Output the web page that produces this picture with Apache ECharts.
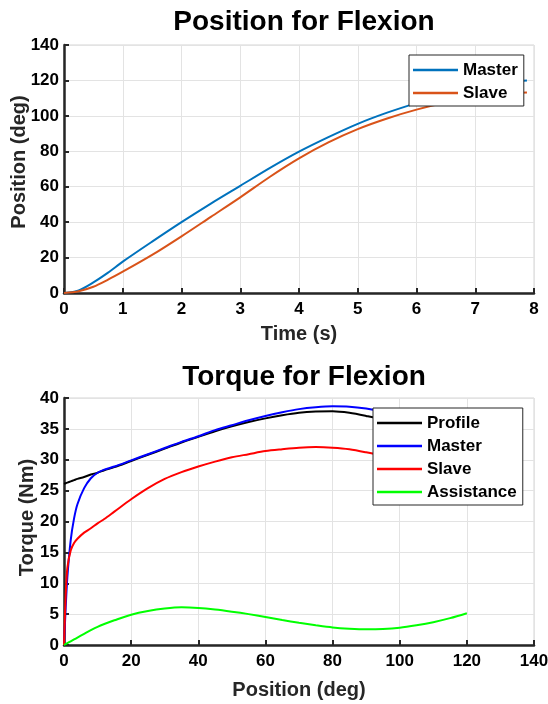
<!DOCTYPE html>
<html>
<head>
<meta charset="utf-8">
<script src="https://cdn.jsdelivr.net/npm/echarts@6/dist/echarts.min.js"></script>
<style>
html, body { margin: 0; padding: 0; background: #fff; }
#chart { width: 548px; height: 704px; }
</style>
</head>
<body>
<div id="chart"></div>
<script>
// position vs time
const timeS = [0, 0.25, 0.5, 0.75, 1, 1.5, 2, 2.5, 3, 3.5, 4, 4.5, 5, 5.5, 6, 6.5, 7, 7.5, 7.88]
const masterPos = [0, 1.5, 6, 11.5, 17.7, 29, 40, 50.5, 60.5, 70.5, 79.8, 88, 95.5, 101.8, 107.2, 112, 115.8, 118.8, 120]
const slavePos = [0, 1, 3.5, 7.5, 12, 21.5, 32, 43, 54, 65.5, 76, 85, 92.5, 98.5, 103.5, 107.5, 110.5, 112.5, 113.2]

// torque vs position
const posDeg = [0, 0.5, 1, 2, 3, 4, 6, 8, 10, 12, 15, 20, 25, 30, 35, 40, 45, 50, 55, 60, 65, 70, 75, 80, 85, 90, 95, 100, 105, 110, 115, 120]
const profileTq = [26.1, 26.2, 26.3, 26.5, 26.7, 26.9, 27.2, 27.6, 27.9, 28.3, 28.8, 29.8, 30.8, 31.8, 32.8, 33.7, 34.6, 35.4, 36.1, 36.7, 37.2, 37.6, 37.8, 37.85, 37.6, 37.1, 36.5, 35.6, 34.6, 33.5, 32.3, 31.0]
const masterTq = [0, 6, 11, 17, 20.5, 22.8, 25.4, 27.0, 27.9, 28.4, 28.9, 29.9, 30.9, 31.9, 32.9, 33.8, 34.8, 35.6, 36.4, 37.1, 37.7, 38.2, 38.5, 38.65, 38.6, 38.3, 37.8, 37.1, 36.2, 35.1, 33.9, 32.5]
const slaveTq = [0, 8, 12.5, 15.3, 16.5, 17.2, 18.2, 18.9, 19.7, 20.4, 21.6, 23.6, 25.4, 26.9, 28.0, 28.9, 29.7, 30.4, 30.9, 31.4, 31.7, 31.95, 32.05, 31.95, 31.7, 31.2, 30.6, 29.8, 28.9, 27.8, 26.6, 25.3]
const assistTq = [0, 0.15, 0.3, 0.6, 0.9, 1.2, 1.8, 2.4, 2.95, 3.4, 4.0, 4.9, 5.5, 5.9, 6.1, 6.0, 5.75, 5.4, 5.0, 4.55, 4.05, 3.6, 3.2, 2.85, 2.65, 2.55, 2.6, 2.8, 3.2, 3.7, 4.35, 5.15]

const font = 'Liberation Sans, Arial, Helvetica, sans-serif'
const axisColor = '#262626'
const pair = (xs, ys) => xs.map((x, i) => [x, ys[i]])

const chart = echarts.init(document.getElementById('chart'))

function xAxisOf(gridIndex, max, interval, name, nameGap) {
  return {
    gridIndex, type: 'value', min: 0, max, interval,
    name, nameLocation: 'middle', nameGap, nameMoveOverlap: false,
    nameTextStyle: {fontFamily: font, fontWeight: 'bold', fontSize: 20, color: axisColor},
    axisLine: {show: true, lineStyle: {color: axisColor, width: 2.5}},
    axisTick: {show: true, inside: true, length: 5, lineStyle: {color: axisColor, width: 2}},
    axisLabel: {fontFamily: font, fontWeight: 'bold', fontSize: 17, color: '#000', margin: 8},
    splitLine: {show: true, lineStyle: {color: '#e3e3e3', width: 1}}
  }
}

function yAxisOf(gridIndex, max, interval, name, nameGap, shiftUp) {
  return {
    gridIndex, type: 'value', min: 0, max, interval,
    name, nameLocation: 'middle', nameGap, nameMoveOverlap: false,
    nameTextStyle: {fontFamily: font, fontWeight: 'bold', fontSize: 20, color: axisColor, padding: [0, 0, 0, shiftUp]},
    axisLine: {show: true, lineStyle: {color: axisColor, width: 2.5}},
    axisTick: {show: true, inside: true, length: 5, lineStyle: {color: axisColor, width: 2}},
    axisLabel: {fontFamily: font, fontWeight: 'bold', fontSize: 17, color: '#000', margin: 5},
    splitLine: {show: true, lineStyle: {color: '#e3e3e3', width: 1}}
  }
}

function lineOf(name, xi, data, color) {
  return {
    name, type: 'line', xAxisIndex: xi, yAxisIndex: xi,
    data, symbol: 'none', smooth: 0.3, clip: false,
    lineStyle: {color, width: 2}, itemStyle: {color}
  }
}

const legendBase = {
  orient: 'vertical', selectedMode: false,
  icon: 'rect', itemWidth: 45, itemHeight: 2.5, itemGap: 1,
  backgroundColor: '#fff', borderColor: axisColor, borderWidth: 1, borderRadius: 0,
  textStyle: {fontFamily: font, fontWeight: 'bold', fontSize: 17, color: '#000', lineHeight: 22}
}

const gridBase = {
  width: 470, show: true, borderColor: '#d4d4d4', borderWidth: 1,
  backgroundColor: '#fff', containLabel: false, outerBoundsMode: 'none'
}

const option = {
  backgroundColor: '#fff',
  animation: false,
  title: [{
    text: 'Position for Flexion', left: 299, top: 3, textAlign: 'center',
    textStyle: {fontFamily: font, fontWeight: 'bold', fontSize: 28, color: '#000'}
  }, {
    text: 'Torque for Flexion', left: 299, top: 358, textAlign: 'center',
    textStyle: {fontFamily: font, fontWeight: 'bold', fontSize: 28, color: '#000'}
  }],
  grid: [
    Object.assign({}, gridBase, {left: 64, top: 45, height: 248}),
    Object.assign({}, gridBase, {left: 64, top: 398, height: 247})
  ],
  xAxis: [
    xAxisOf(0, 8, 1, 'Time (s)', 31),
    xAxisOf(1, 140, 20, 'Position (deg)', 35)
  ],
  yAxis: [
    yAxisOf(0, 140, 20, 'Position (deg)', 35, 14),
    yAxisOf(1, 40, 5, 'Torque (Nm)', 27, 8)
  ],
  legend: [
    Object.assign({}, legendBase, {
      left: 409, top: 55, padding: [4, 6, 2, 4],
      data: ['Master', 'Slave']
    }),
    Object.assign({}, legendBase, {
      left: 373, top: 408, padding: [4, 6, 2, 4],
      data: ['Profile', 'Master ', 'Slave ', 'Assistance']
    })
  ],
  series: [
    lineOf('Master', 0, pair(timeS, masterPos), '#0072BD'),
    lineOf('Slave', 0, pair(timeS, slavePos), '#D95319'),
    lineOf('Profile', 1, pair(posDeg, profileTq), '#000000'),
    lineOf('Master ', 1, pair(posDeg, masterTq), '#0000FF'),
    lineOf('Slave ', 1, pair(posDeg, slaveTq), '#FF0000'),
    lineOf('Assistance', 1, pair(posDeg, assistTq), '#00FF00')
  ]
}

chart.setOption(option)
</script>
</body>
</html>
